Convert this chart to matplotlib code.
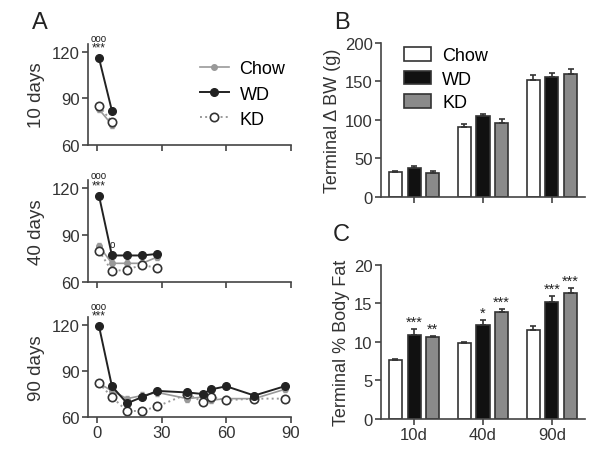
import matplotlib as mpl
import matplotlib.pyplot as plt
from matplotlib.lines import Line2D
import numpy as np
mpl.use('Agg')

plt.rcParams['font.family'] = ['Liberation Sans', 'DejaVu Sans']

# Panel A: body weight time courses (days, weight)
days_10 = [1, 7]
chow_10 = [83, 73]
wd_10 = [116, 82]
kd_10 = [85, 75]

days_40 = [1, 7, 14, 21, 28]
chow_40 = [83, 72, 72, 72, 76]
wd_40 = [115, 77, 77, 77, 78]
kd_40 = [80, 67, 68, 71, 69]

days_90 = [1, 7, 14, 21, 28, 42, 49, 53, 60, 73, 87]
chow_90 = [82, 77, 72, 74, 76, 72, 73, 71, 72, 72, 78]
wd_90 = [119, 80, 69, 73, 77, 76, 75, 78, 80, 74, 80]
kd_90 = [82, 73, 64, 64, 67, 75, 70, 73, 71, 72, 72]

# Panel B / C
groups = ['10d', '40d', '90d']
bw_chow = [32, 91, 152]
bw_wd = [38, 105, 156]
bw_kd = [31, 96, 159]
bw_chow_err = [1, 4, 6]
bw_wd_err = [2, 2, 5]
bw_kd_err = [3, 5, 7]

fat_chow = [7.6, 9.8, 11.5]
fat_wd = [10.9, 12.2, 15.2]
fat_kd = [10.6, 13.9, 16.4]
fat_chow_err = [0.15, 0.2, 0.6]
fat_wd_err = [0.8, 0.6, 0.8]
fat_kd_err = [0.2, 0.4, 0.6]
fat_wd_stars = ['***', '*', '***']
fat_kd_stars = ['**', '***', '***']

DARK = '#222222'
GRAY = '#999999'
BAR_GRAY = '#8a8a8a'

fig = plt.figure(figsize=(6, 4.56), dpi=100)


def style_axes(ax):
    for s in ['top', 'right']:
        ax.spines[s].set_visible(False)
    for s in ['left', 'bottom']:
        ax.spines[s].set_color('#444444')
        ax.spines[s].set_linewidth(1.2)
    ax.tick_params(colors='#444444', labelcolor='#333333', labelsize=12,
                   width=1.2, length=4, pad=2)


chow_style = dict(color=GRAY, marker='o', ms=4, lw=1.2)
kd_style = dict(color=GRAY, ls=':', marker='o', ms=6, mfc='white',
                mec='#333333', mew=1.2, lw=1.4)
wd_style = dict(color=DARK, marker='o', ms=5.5, lw=1.4)


def time_panel(rect, days, chow, wd, kd, label, show_x):
    ax = fig.add_axes(rect)
    ekw = dict(capsize=1.5, elinewidth=0.8)
    ax.errorbar(days, chow, yerr=2, **chow_style, **ekw)
    ax.errorbar(days, kd, yerr=1.5, **kd_style, **ekw)
    ax.errorbar(days, wd, yerr=1.5, **wd_style, **ekw)
    ax.set_xlim(-4, 90)
    ax.set_ylim(60, 125)
    ax.set_yticks([60, 90, 120])
    ax.set_xticks([0, 30, 60, 90])
    if not show_x:
        ax.set_xticklabels([])
    ax.set_ylabel(label, fontsize=13.5, color='#333333', labelpad=5)
    ax.text(days[0], wd[0] + 10, 'ooo', ha='center', va='bottom',
            fontsize=7, color=DARK, clip_on=False)
    ax.text(days[0], wd[0] + 3, '***', ha='center', va='bottom',
            fontsize=8.5, color=DARK, clip_on=False)
    style_axes(ax)
    return ax


ax1 = time_panel([0.147, 0.680, 0.338, 0.221], days_10, chow_10, wd_10, kd_10,
                 '10 days', False)
ax2 = time_panel([0.147, 0.379, 0.338, 0.224], days_40, chow_40, wd_40, kd_40,
                 '40 days', False)
ax2.text(days_40[1], wd_40[1] + 4, 'o', ha='center', va='bottom',
         fontsize=7, color=DARK)
ax3 = time_panel([0.147, 0.083, 0.338, 0.220], days_90, chow_90, wd_90, kd_90,
                 '90 days', True)

handles = [Line2D([], [], **chow_style), Line2D([], [], **wd_style),
           Line2D([], [], **kd_style)]
fig.legend(handles, ['Chow', 'WD', 'KD'], loc='upper left',
           bbox_to_anchor=(0.318, 0.885), frameon=False, fontsize=13,
           handlelength=1.6, handletextpad=0.6, labelspacing=0.45,
           borderpad=0)

x = np.arange(len(groups))
w = 0.19
off = 0.27


def bar_panel(rect, chow, wd, kd, ce, we, ke):
    ax = fig.add_axes(rect)
    kw = dict(width=w, edgecolor='#333333', linewidth=1.2, capsize=2.5,
              error_kw=dict(elinewidth=1.2, ecolor='#333333', capthick=1.2))
    ax.bar(x - off, chow, yerr=[np.zeros(3), ce], color='white',
           label='Chow', **kw)
    ax.bar(x, wd, yerr=[np.zeros(3), we], color='#111111', label='WD', **kw)
    ax.bar(x + off, kd, yerr=[np.zeros(3), ke], color=BAR_GRAY,
           label='KD', **kw)
    ax.set_xlim(-0.48, 2.48)
    ax.set_xticks(x)
    style_axes(ax)
    return ax


axb = bar_panel([0.635, 0.566, 0.34, 0.338], bw_chow, bw_wd, bw_kd,
                bw_chow_err, bw_wd_err, bw_kd_err)
axb.set_ylim(0, 200)
axb.set_yticks([0, 50, 100, 150, 200])
axb.set_xticklabels([])
axb.set_ylabel('Terminal \u0394 BW (g)', fontsize=13, color='#333333',
               labelpad=3)
axb.legend(loc='upper left', bbox_to_anchor=(0.07, 1.03), frameon=False,
           fontsize=13, handlelength=1.5, handleheight=0.8,
           handletextpad=0.6, labelspacing=0.35, borderpad=0)

axc = bar_panel([0.635, 0.079, 0.34, 0.338], fat_chow, fat_wd, fat_kd,
                fat_chow_err, fat_wd_err, fat_kd_err)
axc.set_ylim(0, 20)
axc.set_yticks([0, 5, 10, 15, 20])
axc.set_xticklabels(groups)
axc.set_ylabel('Terminal % Body Fat', fontsize=13, color='#333333',
               labelpad=3)
for i in range(len(groups)):
    axc.text(x[i], fat_wd[i] + fat_wd_err[i] + 0.05, fat_wd_stars[i],
             ha='center', va='bottom', fontsize=10.5, color=DARK)
    axc.text(x[i] + off, fat_kd[i] + fat_kd_err[i] + 0.05, fat_kd_stars[i],
             ha='center', va='bottom', fontsize=10.5, color=DARK)

fig.text(0.053, 0.95, 'A', fontsize=17, color=DARK, va='center')
fig.text(0.557, 0.95, 'B', fontsize=17, color=DARK, va='center')
fig.text(0.555, 0.485, 'C', fontsize=17, color=DARK, va='center')

plt.savefig('out.png', dpi=100)
